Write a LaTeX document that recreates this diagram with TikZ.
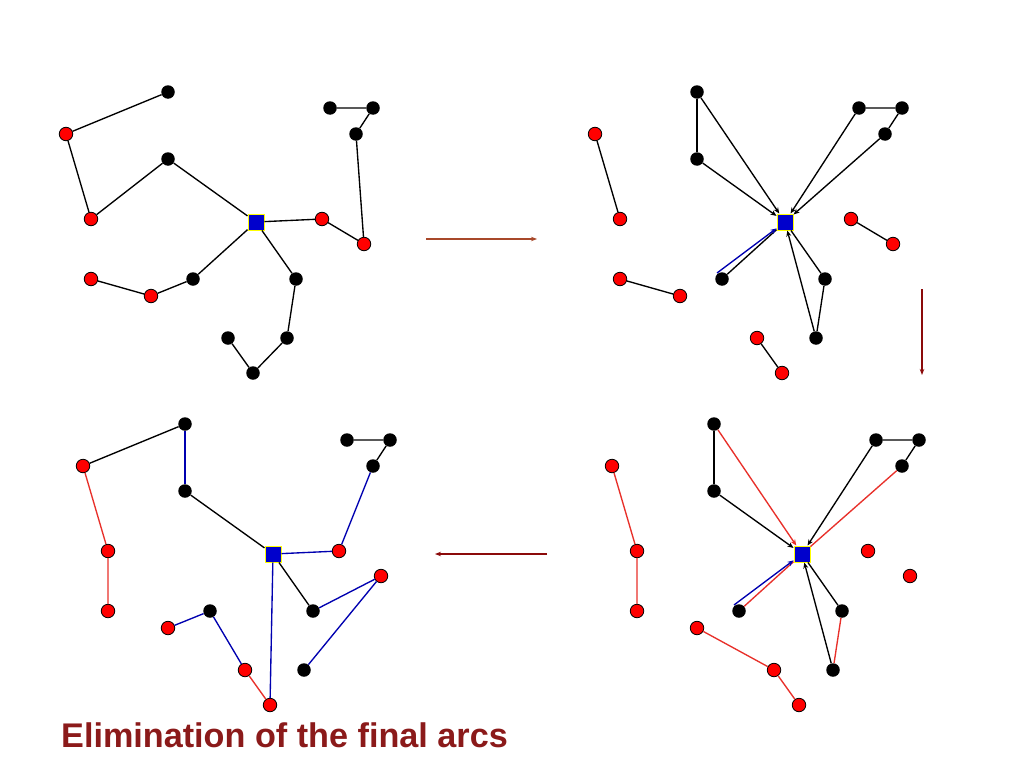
\documentclass[tikz,border=0pt]{standalone}
\usepackage{fontspec}
\setmainfont{Liberation Sans}
\usepackage{xcolor}
\definecolor{nodered}{HTML}{FF0000}
\definecolor{hubblue}{HTML}{0000CC}
\definecolor{hubrim}{HTML}{FFFF00}
\definecolor{arcblue}{HTML}{0000B0}
\definecolor{arcred}{HTML}{E8302A}
\definecolor{titlered}{HTML}{8B1A1A}
\definecolor{stepbrown}{HTML}{A8482A}
\definecolor{stepred}{HTML}{8B0A0A}
\usetikzlibrary{arrows.meta,positioning}
\tikzset{
  reddot/.style={circle, draw=black, fill=nodered, minimum size=13.5pt, inner sep=0pt, line width=0.8pt},
  blackdot/.style={circle, fill=black, minimum size=13.5pt, inner sep=0pt},
  hub/.style={rectangle, draw=hubrim, fill=hubblue, minimum size=16pt, inner sep=0pt, line width=1pt},
  arc/.style={line width=1.35pt},
  tip/.style={-{Stealth[length=6pt,width=5pt]}},
}

\begin{document}
\begin{tikzpicture}[x=1pt, y=-1pt]
    \fill[white] (0,0) rectangle (1024,768);
    \useasboundingbox (0,0) rectangle (1024,768);

    % before
    \begin{scope}
    \node[blackdot] (aP1) at (168,92) {};
    \node[reddot] (aP2) at (66,134) {};
    \node[reddot] (aP3) at (91,219) {};
    \node[blackdot] (aP4) at (168,159) {};
    \node[hub] (aHub) at (256,222) {};
    \node[reddot] (aP5) at (322,219) {};
    \node[reddot] (aP6) at (364,244) {};
    \node[blackdot] (aP7) at (330,108) {};
    \node[blackdot] (aP8) at (373,108) {};
    \node[blackdot] (aP9) at (356,134) {};
    \node[reddot] (aP10) at (91,279) {};
    \node[reddot] (aP11) at (151,296) {};
    \node[blackdot] (aP12) at (193,279) {};
    \node[blackdot] (aP13) at (296,279) {};
    \node[blackdot] (aP14) at (287,338) {};
    \node[blackdot] (aP15) at (253,373) {};
    \node[blackdot] (aP16) at (228,338) {};
    \draw[arc] (aP1) -- (aP2) -- (aP3) -- (aP4) -- (aHub) -- (aP5) -- (aP6) -- (aP9) -- (aP8) -- (aP7);
    \draw[arc] (aHub) -- (aP12) -- (aP11) -- (aP10);
    \draw[arc] (aHub) -- (aP13) -- (aP14) -- (aP15) -- (aP16);
    \end{scope}

    % arcs towards the root
    \begin{scope}[shift={(529,0)}]
    \node[blackdot] (bP1) at (168,92) {};
    \node[reddot] (bP2) at (66,134) {};
    \node[reddot] (bP3) at (91,219) {};
    \node[blackdot] (bP4) at (168,159) {};
    \node[hub] (bHub) at (256,222) {};
    \node[reddot] (bP5) at (322,219) {};
    \node[reddot] (bP6) at (364,244) {};
    \node[blackdot] (bP7) at (330,108) {};
    \node[blackdot] (bP8) at (373,108) {};
    \node[blackdot] (bP9) at (356,134) {};
    \node[reddot] (bP10) at (91,279) {};
    \node[reddot] (bP11) at (151,296) {};
    \node[blackdot] (bP12) at (193,279) {};
    \node[blackdot] (bP13) at (296,279) {};
    \node[blackdot] (bP14) at (287,338) {};
    \node[reddot] (bP15) at (253,373) {};
    \node[reddot] (bP16) at (228,338) {};
    \coordinate (bTail) at (188,273);
    \draw[arc] (bP1) -- (bP4);
    \draw[arc] (bP7) -- (bP8) -- (bP9);
    \draw[arc] (bP2) -- (bP3);
    \draw[arc] (bP5) -- (bP6);
    \draw[arc] (bP10) -- (bP11);
    \draw[arc] (bP16) -- (bP15);
    \draw[arc] (bP12) -- (bHub);
    \draw[arc] (bHub) -- (bP13) -- (bP14);
    \draw[arc, tip] (bP1) -- (bHub);
    \draw[arc, tip] (bP4) -- (bHub);
    \draw[arc, tip] (bP7) -- (bHub);
    \draw[arc, tip] (bP9) -- (bHub);
    \draw[arc, tip] (bP14) -- (bHub);
    \draw[arc, tip, arcblue] (bTail) -- (bHub);
    \end{scope}

    % removed arcs in red
    \begin{scope}[shift={(546,332)}]
    \node[blackdot] (cP1) at (168,92) {};
    \node[reddot] (cP2) at (66,134) {};
    \node[reddot] (cP3) at (91,219) {};
    \node[blackdot] (cP4) at (168,159) {};
    \node[hub] (cHub) at (256,222) {};
    \node[reddot] (cP5) at (322,219) {};
    \node[reddot] (cP6) at (364,244) {};
    \node[blackdot] (cP7) at (330,108) {};
    \node[blackdot] (cP8) at (373,108) {};
    \node[blackdot] (cP9) at (356,134) {};
    \node[reddot] (cP10) at (91,279) {};
    \node[reddot] (cP11) at (151,296) {};
    \node[blackdot] (cP12) at (193,279) {};
    \node[blackdot] (cP13) at (296,279) {};
    \node[blackdot] (cP14) at (287,338) {};
    \node[reddot] (cP15) at (253,373) {};
    \node[reddot] (cP16) at (228,338) {};
    \coordinate (cTail) at (188,273);
    \draw[arc] (cP1) -- (cP4);
    \draw[arc] (cP7) -- (cP8) -- (cP9);
    \draw[arc] (cHub) -- (cP13);
    \draw[arc, arcred] (cP2) -- (cP3) -- (cP10);
    \draw[arc, arcred] (cP11) -- (cP16) -- (cP15);
    \draw[arc, arcred] (cP13) -- (cP14);
    \draw[arc, arcred] (cP9) -- (cHub);
    \draw[arc, arcred] (cP12) -- (cHub);
    \draw[arc, tip, arcred] (cP1) -- (cHub);
    \draw[arc, tip] (cP4) -- (cHub);
    \draw[arc, tip] (cP7) -- (cHub);
    \draw[arc, tip] (cP14) -- (cHub);
    \draw[arc, tip, arcblue] (cTail) -- (cHub);
    \end{scope}

    % final tree
    \begin{scope}[shift={(17,332)}]
    \node[blackdot] (dP1) at (168,92) {};
    \node[reddot] (dP2) at (66,134) {};
    \node[reddot] (dP3) at (91,219) {};
    \node[blackdot] (dP4) at (168,159) {};
    \node[hub] (dHub) at (256,222) {};
    \node[reddot] (dP5) at (322,219) {};
    \node[reddot] (dP6) at (364,244) {};
    \node[blackdot] (dP7) at (330,108) {};
    \node[blackdot] (dP8) at (373,108) {};
    \node[blackdot] (dP9) at (356,134) {};
    \node[reddot] (dP10) at (91,279) {};
    \node[reddot] (dP11) at (151,296) {};
    \node[blackdot] (dP12) at (193,279) {};
    \node[blackdot] (dP13) at (296,279) {};
    \node[blackdot] (dP14) at (287,338) {};
    \node[reddot] (dP15) at (253,373) {};
    \node[reddot] (dP16) at (228,338) {};
    \draw[arc] (dP2) -- (dP1);
    \draw[arc] (dP4) -- (dHub) -- (dP13);
    \draw[arc] (dP9) -- (dP8) -- (dP7);
    \draw[arc, arcred] (dP2) -- (dP3) -- (dP10);
    \draw[arc, arcred] (dP16) -- (dP15);
    \draw[arc, arcblue] (dP1) -- (dP4);
    \draw[arc, arcblue] (dHub) -- (dP5) -- (dP9);
    \draw[arc, arcblue] (dHub) -- (dP15);
    \draw[arc, arcblue] (dP13) -- (dP6) -- (dP14);
    \draw[arc, arcblue] (dP11) -- (dP12) -- (dP16);
    \end{scope}

    \coordinate (stepAa) at (426,239);
    \coordinate (stepAb) at (537,239);
    \coordinate (stepBa) at (922,289);
    \coordinate (stepBb) at (922,375);
    \coordinate (stepCa) at (547,554);
    \coordinate (stepCb) at (435,554);
    \draw[-{Stealth[length=6pt,width=4.5pt]}, stepbrown, line width=1.3pt] (stepAa) -- (stepAb);
    \draw[-{Stealth[length=6pt,width=4.5pt]}, stepred, line width=1.3pt] (stepBa) -- (stepBb);
    \draw[-{Stealth[length=6pt,width=4.5pt]}, stepred, line width=1.3pt] (stepCa) -- (stepCb);

    \node[anchor=base west, inner sep=0pt, text=titlered, font=\fontsize{34.2}{40}\selectfont\bfseries] (title) at (61,747) {Elimination of the final arcs};
  \end{tikzpicture}
\end{document}
